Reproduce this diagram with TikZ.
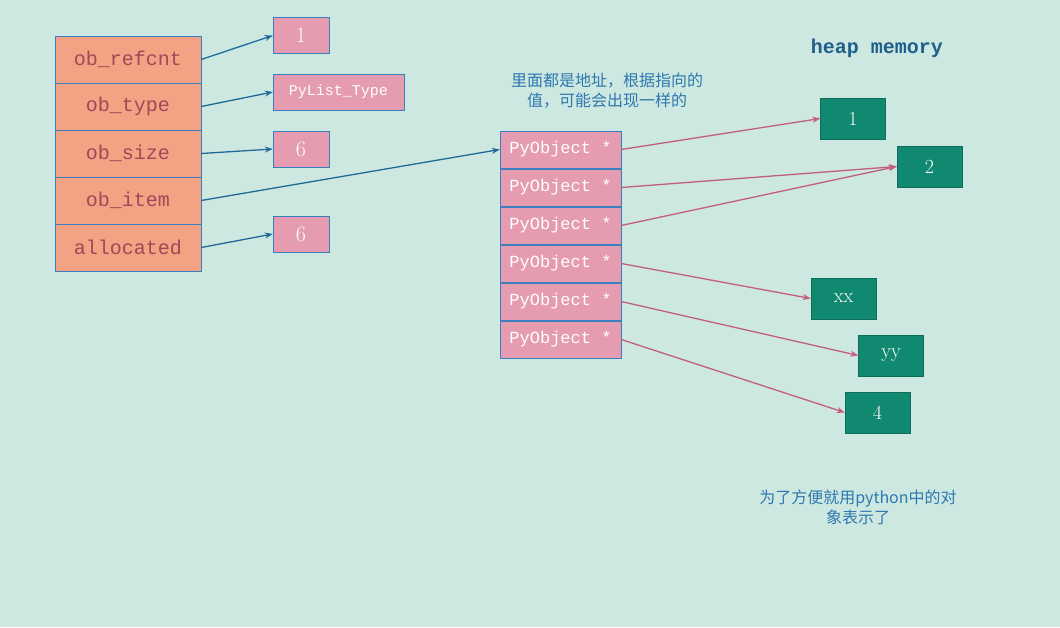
\documentclass[tikz,border=0pt]{standalone}
\usepackage{fontspec}
\setmonofont{Liberation Mono}
\newfontfamily\cjk{Noto Sans CJK SC}
\usetikzlibrary{arrows.meta}
\definecolor{bg}{HTML}{CDE8E0}
\definecolor{salmon}{HTML}{F3A384}
\definecolor{pinkb}{HTML}{E59CB0}
\definecolor{greenb}{HTML}{118870}
\definecolor{edgeb}{HTML}{3A7FC0}
\definecolor{darkred}{HTML}{A04858}
\definecolor{arrb}{HTML}{1F6A9A}
\definecolor{arrp}{HTML}{C25E80}
\definecolor{headc}{HTML}{1F5F8B}
\definecolor{notec}{HTML}{2E78B0}
\begin{document}
\begin{tikzpicture}[x=1pt,y=-1pt,
  fld/.style={draw=edgeb,fill=salmon,minimum width=146pt,minimum height=47pt,inner sep=0pt,font=\ttfamily\fontsize{20}{20}\selectfont,text=darkred},
  val/.style={draw=edgeb,fill=pinkb,minimum width=56pt,minimum height=36pt,inner sep=0pt,text=white,font=\fontsize{22}{22}\selectfont},
  ptr/.style={draw=edgeb,fill=pinkb,minimum width=121pt,minimum height=37pt,inner sep=0pt,text=white,font=\ttfamily\fontsize{17}{17}\selectfont},
  obj/.style={fill=greenb,draw=greenb!80!black,minimum width=65pt,minimum height=41pt,inner sep=0pt,text=white,font=\fontsize{20}{20}\selectfont},
  ba/.style={draw=arrb,line width=1.3pt,-{Stealth[length=8pt,width=6pt]}},
  pa/.style={draw=arrp,line width=1.3pt,-{Stealth[length=8pt,width=6pt]}}]
\fill[bg] (0,0) rectangle (1060,627);
\useasboundingbox (0,0) rectangle (1060,627);
\node[fld] (f1) at (128,59.5) {ob\_refcnt};
\node[fld] (f2) at (128,106.5) {ob\_type};
\node[fld] (f3) at (128,153.5) {ob\_size};
\node[fld] (f4) at (128,200.5) {ob\_item};
\node[fld] (f5) at (128,247.5) {allocated};
\node[val] (v1) at (301,35.5) {1};
\node[val,minimum width=131pt,font=\ttfamily\fontsize{15}{15}\selectfont] (v2) at (338.5,92) {PyList\_Type};
\node[val] (v3) at (301,149) {6};
\node[val] (v5) at (301,234) {6};
\draw[ba] (f1.east) -- (v1.west);
\draw[ba] (f2.east) -- (v2.west);
\draw[ba] (f3.east) -- (v3.west);
\draw[ba] (f5.east) -- (v5.west);
\foreach \i/\y in {1/149.5,2/187.5,3/225.5,4/263.5,5/301.5,6/339.5}
  \node[ptr] (p\i) at (560.5,\y) {PyObject *};
\draw[ba] (f4.east) -- (p1.west);
\node[obj] (o1) at (853,118.5) {1};
\node[obj] (o2) at (929.5,166.5) {2};
\node[obj] (o3) at (843.5,298.5) {xx};
\node[obj] (o4) at (891,355.5) {yy};
\node[obj] (o5) at (877.5,412.5) {4};
\draw[pa] (p1.east) -- (o1.west);
\draw[pa] (p2.east) -- (o2.west);
\draw[pa] (p3.east) -- (o2.west);
\draw[pa] (p4.east) -- (o3.west);
\draw[pa] (p5.east) -- (o4.west);
\draw[pa] (p6.east) -- (o5.west);
\node[text=headc,font=\ttfamily\bfseries\fontsize{20}{20}\selectfont] (hm) at (877,48) {heap memory};
\node[text=notec,font=\cjk\fontsize{16}{20}\selectfont,align=center] (n1) at (607,91) {里面都是地址，根据指向的\\值，可能会出现一样的};
\node[text=notec,font=\cjk\fontsize{16}{20}\selectfont,align=center] (n2) at (858,507) {为了方便就用python中的对\\象表示了};
\end{tikzpicture}
\end{document}
